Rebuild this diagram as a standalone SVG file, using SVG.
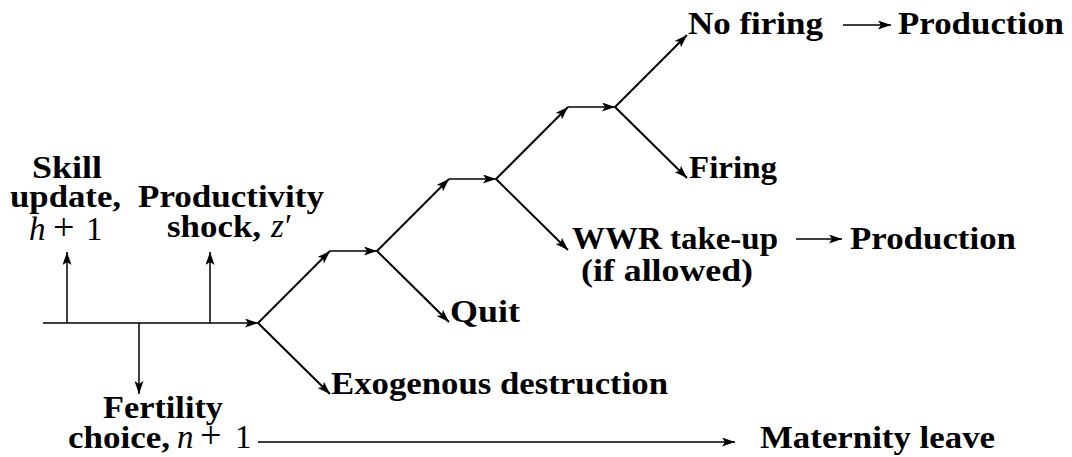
<svg xmlns="http://www.w3.org/2000/svg" width="1072" height="457" viewBox="0 0 1072 457">
<style>
  .lbl { font-family: "Liberation Serif", "Times New Roman", serif; font-weight: bold; font-size: 32px; fill: #000; }
  .math { font-family: "Liberation Serif", "Times New Roman", serif; font-weight: normal; font-size: 33px; }
  .it { font-style: italic; }
  .op { font-size: 38px; }
  .thin { fill: none; stroke: #000; stroke-width: 1.5; marker-end: url(#ah); }
  .thick { fill: none; stroke: #000; stroke-width: 2; marker-end: url(#ah); }
</style>
<defs>
  <marker id="ah" markerUnits="userSpaceOnUse" markerWidth="13" markerHeight="9" viewBox="0 0 13 9" refX="13" refY="4.5" orient="auto">
    <path d="M0,0 L13,4.5 L0,9 L3,4.5 Z" fill="#000"/>
  </marker>
</defs>
<rect width="1072" height="457" fill="#fff"/>
<g id="connectors">
  <path class="thin" d="M43,323 H258"/>
  <path class="thin" d="M67,323 V252"/>
  <path class="thin" d="M210,323 V252"/>
  <path class="thin" d="M139,323 V394"/>
  <path class="thin" d="M258,442 H735"/>
  <path class="thick" d="M258,323 L330,251"/>
  <path class="thin" d="M330,251 H377"/>
  <path class="thick" d="M258,323 L330,394"/>
  <path class="thick" d="M377,251 L449,179"/>
  <path class="thin" d="M449,179 H496"/>
  <path class="thick" d="M377,251 L449,322"/>
  <path class="thick" d="M496,179 L568,107"/>
  <path class="thin" d="M568,107 H615"/>
  <path class="thick" d="M496,179 L568,250"/>
  <path class="thick" d="M615,107 L687,35"/>
  <path class="thick" d="M615,107 L687,178"/>
  <path class="thin" d="M843,25 H891"/>
  <path class="thin" d="M796,239 H842"/>
</g>
<g id="skill-update">
  <text class="lbl" x="32" y="178" textLength="70" lengthAdjust="spacingAndGlyphs">Skill</text>
  <text class="lbl" x="10" y="207" textLength="111" lengthAdjust="spacingAndGlyphs">update,</text>
  <text class="math" y="240"><tspan class="it" x="29">h</tspan><tspan class="op" x="53">+</tspan><tspan x="86">1</tspan></text>
</g>
<g id="productivity-shock">
  <text class="lbl" x="138" y="207" textLength="186" lengthAdjust="spacingAndGlyphs">Productivity</text>
  <text class="lbl" x="167" y="237" textLength="94" lengthAdjust="spacingAndGlyphs">shock,</text>
  <text class="math" y="237"><tspan class="it" x="271">z</tspan><tspan x="285">′</tspan></text>
</g>
<g id="fertility-choice">
  <text class="lbl" x="103" y="418" textLength="120" lengthAdjust="spacingAndGlyphs">Fertility</text>
  <text class="lbl" x="68" y="448" textLength="102" lengthAdjust="spacingAndGlyphs">choice,</text>
  <text class="math" y="448"><tspan class="it" x="177">n</tspan><tspan class="op" x="200">+</tspan><tspan x="235">1</tspan></text>
</g>
<g id="exogenous-destruction">
  <text class="lbl" x="331" y="394" textLength="337" lengthAdjust="spacingAndGlyphs">Exogenous destruction</text>
</g>
<g id="quit">
  <text class="lbl" x="450" y="322" textLength="70" lengthAdjust="spacingAndGlyphs">Quit</text>
</g>
<g id="wwr-take-up">
  <text class="lbl" x="572" y="249" textLength="206" lengthAdjust="spacingAndGlyphs">WWR take-up</text>
  <text class="lbl" x="581" y="281" textLength="172" lengthAdjust="spacingAndGlyphs">(if allowed)</text>
</g>
<g id="firing">
  <text class="lbl" x="689" y="178" textLength="88" lengthAdjust="spacingAndGlyphs">Firing</text>
</g>
<g id="no-firing">
  <text class="lbl" x="688" y="34" textLength="135" lengthAdjust="spacingAndGlyphs">No firing</text>
</g>
<g id="production-top">
  <text class="lbl" x="898" y="34" textLength="166" lengthAdjust="spacingAndGlyphs">Production</text>
</g>
<g id="production-mid">
  <text class="lbl" x="850" y="249" textLength="166" lengthAdjust="spacingAndGlyphs">Production</text>
</g>
<g id="maternity-leave">
  <text class="lbl" x="760" y="448" textLength="235" lengthAdjust="spacingAndGlyphs">Maternity leave</text>
</g>
</svg>
